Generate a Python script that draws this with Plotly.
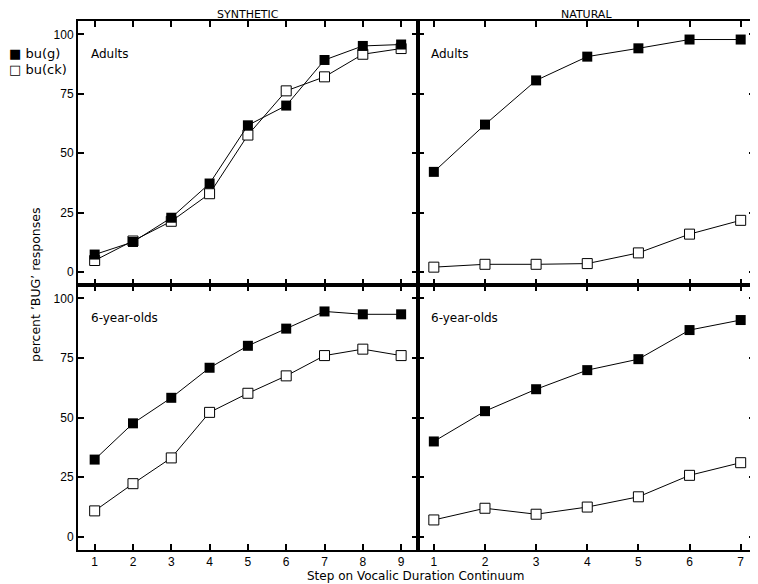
import plotly.graph_objects as go

# steps on the vocalic duration continuum
steps_syn = [1, 2, 3, 4, 5, 6, 7, 8, 9]
steps_nat = [1, 2, 3, 4, 5, 6, 7]

# percent 'BUG' responses
syn_adults_g = [7.3, 12.6, 22.8, 37.2, 61.7, 70.0, 89.2, 95.1, 95.7]
syn_adults_ck = [4.8, 13.0, 21.3, 32.9, 57.6, 76.2, 82.1, 91.6, 94.0]
nat_adults_g = [42.1, 62.0, 80.6, 90.6, 94.1, 97.8, 97.8]
nat_adults_ck = [2.0, 3.2, 3.2, 3.5, 8.0, 15.9, 21.7]
syn_kids_g = [32.4, 47.6, 58.3, 70.9, 80.1, 87.3, 94.5, 93.3, 93.3]
syn_kids_ck = [10.9, 22.3, 33.1, 52.2, 60.2, 67.5, 76.0, 78.7, 76.0]
nat_kids_g = [40.0, 52.7, 61.9, 69.9, 74.5, 86.7, 90.9]
nat_kids_ck = [7.1, 12.0, 9.5, 12.5, 16.8, 25.8, 31.1]

y_ticks = [0, 25, 50, 75, 100]
font = "Liberation Sans, Arial, sans-serif"
wide = "DejaVu Sans, sans-serif"

fig = go.Figure()

panels = [
    ("x", "y", steps_syn, syn_adults_g, syn_adults_ck),
    ("x2", "y2", steps_nat, nat_adults_g, nat_adults_ck),
    ("x3", "y3", steps_syn, syn_kids_g, syn_kids_ck),
    ("x4", "y4", steps_nat, nat_kids_g, nat_kids_ck),
]

for xa, ya, steps, bug, buck in panels:
    # open squares first so the filled ones sit on top
    fig.add_trace(go.Scatter(
        x=steps, y=buck, xaxis=xa, yaxis=ya, mode="lines+markers",
        line=dict(color="black", width=1),
        marker=dict(symbol="square", size=10, color="white",
                    line=dict(color="black", width=1)),
        name="bu(ck)", showlegend=False,
    ))
    fig.add_trace(go.Scatter(
        x=steps, y=bug, xaxis=xa, yaxis=ya, mode="lines+markers",
        line=dict(color="black", width=1),
        marker=dict(symbol="square", size=10, color="black"),
        name="bu(g)", showlegend=False,
    ))

axis_style = dict(
    showline=True, linecolor="black", linewidth=2, mirror="ticks",
    ticks="inside", ticklen=6, tickwidth=1.5, tickcolor="black",
    showgrid=False, zeroline=False,
    tickfont=dict(family=font, size=12, color="black"),
)

x_split = 0.5022
y_split = 0.501
x_syn = [0.565, 9.44]
x_nat = [0.69, 7.28]
y_range = [-5.5, 105.6]

# the page body adds an 8px offset, so the figure is 8px smaller each way
fig.update_layout(
    width=750, height=576,
    margin=dict(l=70, r=3, t=13, b=34, autoexpand=False),
    paper_bgcolor="white", plot_bgcolor="white",
    font=dict(family=wide, size=12, color="black"),
    xaxis=dict(axis_style, domain=[0, x_split], anchor="y", range=x_syn,
               tickvals=steps_syn, showticklabels=False),
    xaxis2=dict(axis_style, domain=[x_split, 1], anchor="y2", range=x_nat,
                tickvals=steps_nat, showticklabels=False),
    xaxis3=dict(axis_style, domain=[0, x_split], anchor="y3", range=x_syn,
                tickvals=steps_syn),
    xaxis4=dict(axis_style, domain=[x_split, 1], anchor="y4", range=x_nat,
                tickvals=steps_nat),
    yaxis=dict(axis_style, domain=[y_split, 1], anchor="x", range=y_range,
               tickvals=y_ticks),
    yaxis2=dict(axis_style, domain=[y_split, 1], anchor="x2", range=y_range,
                tickvals=y_ticks, showticklabels=False),
    yaxis3=dict(axis_style, domain=[0, y_split], anchor="x3", range=y_range,
                tickvals=y_ticks),
    yaxis4=dict(axis_style, domain=[0, y_split], anchor="x4", range=y_range,
                tickvals=y_ticks, showticklabels=False),
)

notes = [
    # column headers
    dict(text="SYNTHETIC", xref="x domain", yref="paper", x=0.5, y=1,
         yshift=6.5, yanchor="middle", showarrow=False, font=dict(size=11)),
    dict(text="NATURAL", xref="x2 domain", yref="paper", x=0.5, y=1,
         yshift=6.5, yanchor="middle", showarrow=False, font=dict(size=11)),
    # panel labels
    dict(text="Adults", xref="x domain", yref="y domain", x=0.032, y=0.875,
         xanchor="left", yanchor="middle", showarrow=False),
    dict(text="Adults", xref="x2 domain", yref="y2 domain", x=0.033, y=0.875,
         xanchor="left", yanchor="middle", showarrow=False),
    dict(text="6-year-olds", xref="x3 domain", yref="y3 domain", x=0.032, y=0.875,
         xanchor="left", yanchor="middle", showarrow=False),
    dict(text="6-year-olds", xref="x4 domain", yref="y4 domain", x=0.033, y=0.875,
         xanchor="left", yanchor="middle", showarrow=False),
    # axis titles
    dict(text="Step on Vocalic Duration Continuum", xref="paper", yref="paper",
         x=(415 - 78) / 677, y=0, yshift=-26, yanchor="middle", showarrow=False),
    dict(text="percent \u2019BUG\u2019 responses", xref="paper", yref="paper",
         x=0, xshift=-42, y=y_split, textangle=-90, xanchor="center",
         yanchor="middle", showarrow=False, font=dict(size=12.5)),
    # key
    dict(text="\u25a0 bu(g)", xref="paper", yref="y domain", x=0, xshift=-71,
         y=0.875, xanchor="left", yanchor="middle", showarrow=False,
         font=dict(size=13)),
    dict(text="\u25a1 bu(ck)", xref="paper", yref="y domain", x=0, xshift=-71,
         y=0.818, xanchor="left", yanchor="middle", showarrow=False,
         font=dict(size=13)),
]
fig.update_layout(annotations=notes)

fig.write_html("out.html")
